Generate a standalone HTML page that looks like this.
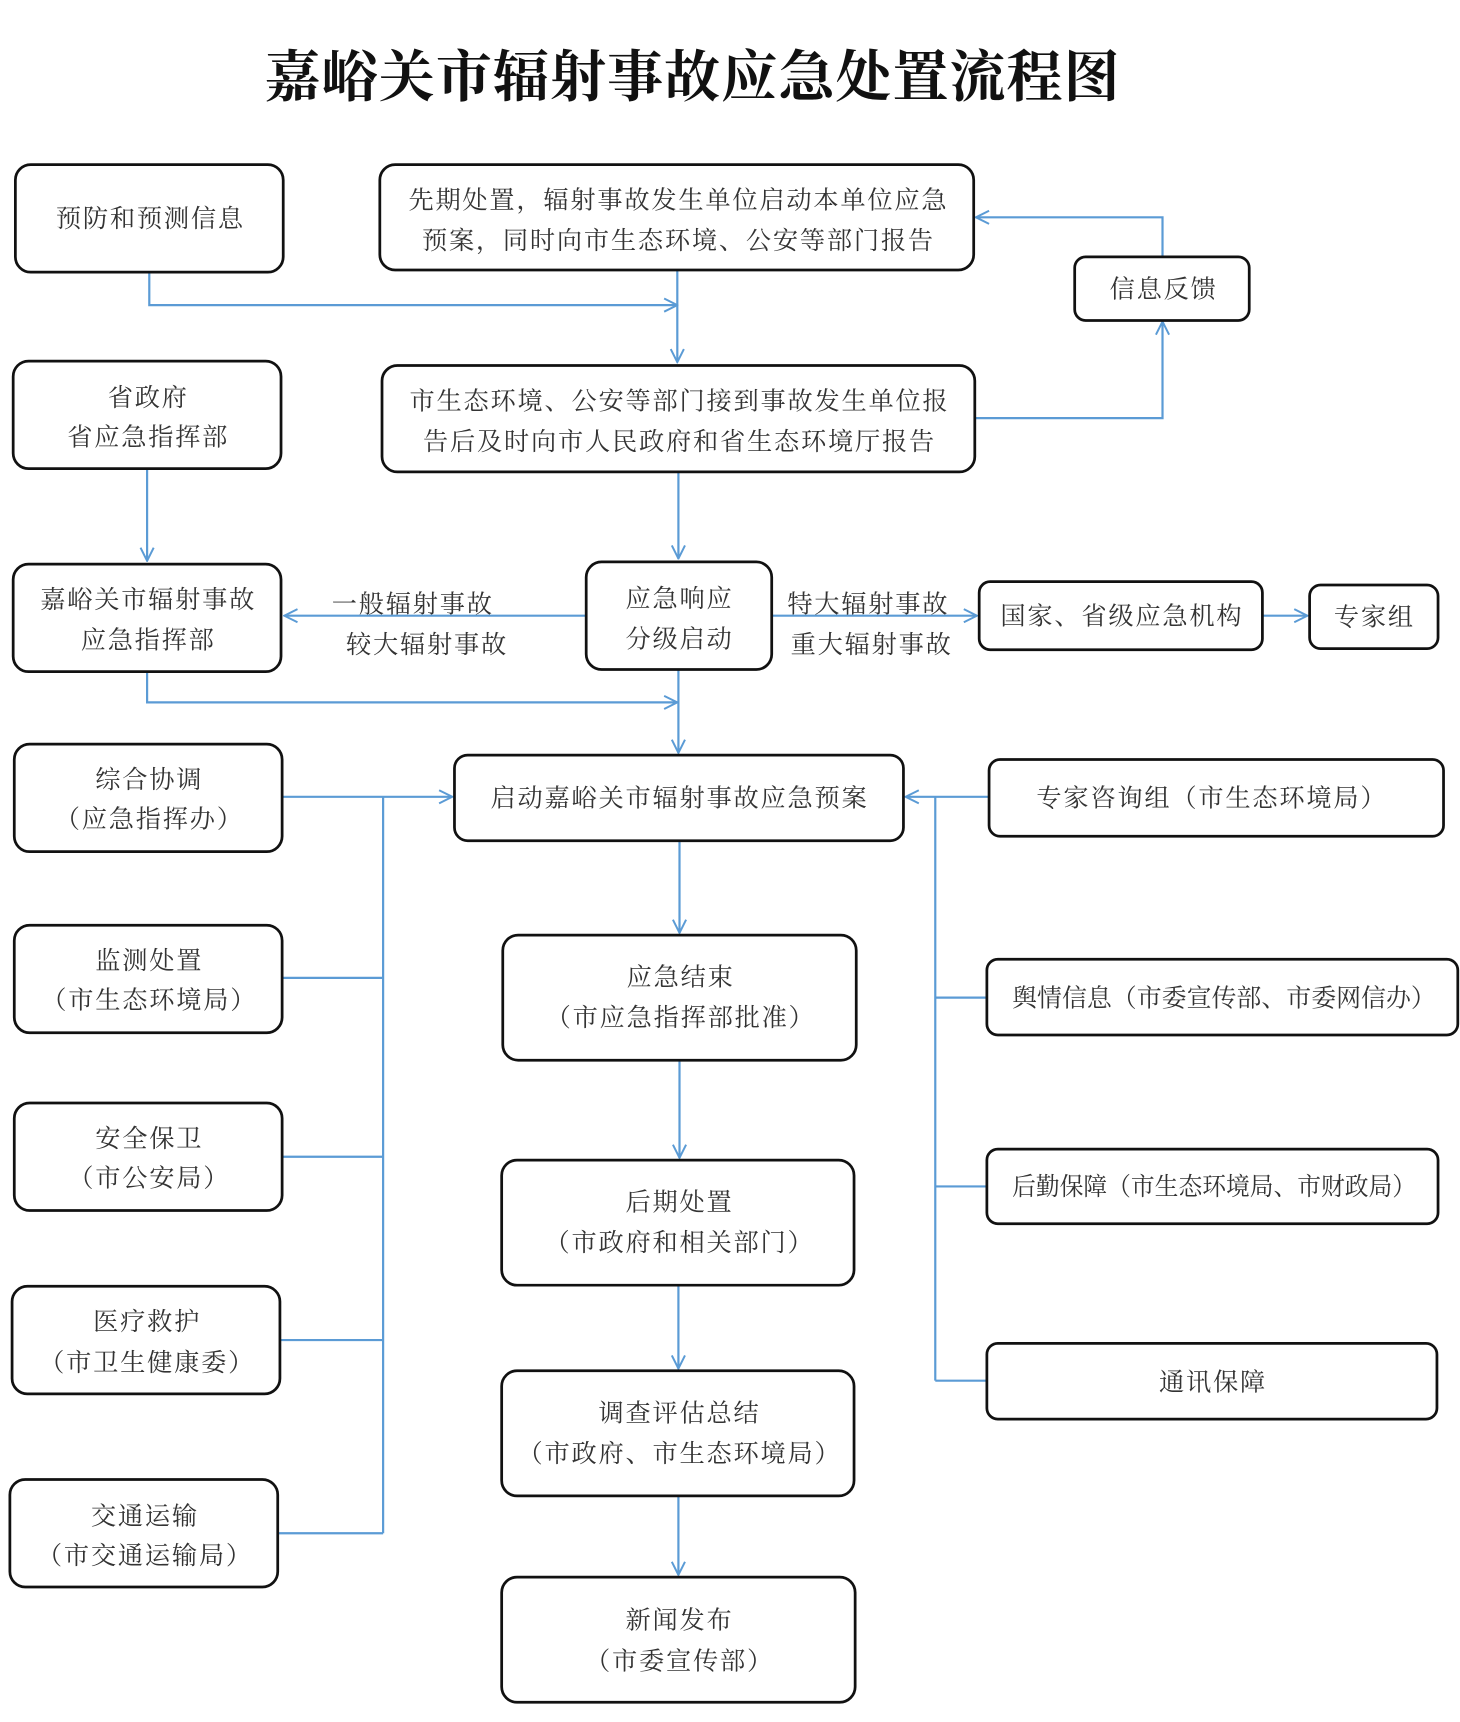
<!DOCTYPE html>
<html><head><meta charset="utf-8"><style>
html,body{margin:0;padding:0;background:#fff;}
svg{display:block;}
text{font-family:"Liberation Serif","Noto Serif CJK SC",serif;fill:#333;font-size:23px;letter-spacing:1.6px;text-anchor:middle;}
.t{font-size:51px;font-weight:bold;fill:#111;letter-spacing:1px;}
.n{letter-spacing:0;}
rect{fill:#fff;stroke:#111;stroke-width:2.5;}
.c{fill:none;stroke:#5b9bd5;stroke-width:2;}
</style></head><body>
<svg width="1460" height="1722" viewBox="0 0 1330 1569" preserveAspectRatio="none" xmlns="http://www.w3.org/2000/svg">
<defs><marker id="a" viewBox="0 0 14 14" refX="13" refY="7" markerWidth="14" markerHeight="14" markerUnits="userSpaceOnUse" orient="auto"><path d="M1,1 L13,7 L1,13" fill="none" stroke="#5b9bd5" stroke-width="1.8"/></marker></defs>
<text class="t" x="631" y="88">嘉峪关市辐射事故应急处置流程图</text>

<path class="c" d="M136,248 V278 H617" marker-end="url(#a)"/>
<path class="c" d="M617,246 V330" marker-end="url(#a)"/>
<path class="c" d="M888,381 H1059 V293" marker-end="url(#a)"/>
<path class="c" d="M1059,234 V198 H889" marker-end="url(#a)"/>
<path class="c" d="M134,427 V511" marker-end="url(#a)"/>
<path class="c" d="M618,430 V509" marker-end="url(#a)"/>
<path class="c" d="M534,561 H259" marker-end="url(#a)"/>
<path class="c" d="M703,561 H890" marker-end="url(#a)"/>
<path class="c" d="M1150,561 H1191" marker-end="url(#a)"/>
<path class="c" d="M134,612 V640 H617" marker-end="url(#a)"/>
<path class="c" d="M618,610 V686" marker-end="url(#a)"/>
<path class="c" d="M349,726 V1397"/>
<path class="c" d="M257,726 H412" marker-end="url(#a)"/>
<path class="c" d="M257,891 H349 M257,1054 H349 M255,1221 H349 M253,1397 H349"/>
<path class="c" d="M852,726 V1258"/>
<path class="c" d="M901,726 H825" marker-end="url(#a)"/>
<path class="c" d="M852,909 H899 M852,1081 H899 M852,1258 H899"/>
<path class="c" d="M619,766 V850" marker-end="url(#a)"/>
<path class="c" d="M619,966 V1055" marker-end="url(#a)"/>
<path class="c" d="M618,1171 V1247" marker-end="url(#a)"/>
<path class="c" d="M618,1363 V1435" marker-end="url(#a)"/>

<text x="376" y="558">一般辐射事故</text>
<text x="389" y="595">较大辐射事故</text>
<text x="791" y="558">特大辐射事故</text>
<text x="794" y="595">重大辐射事故</text>

<rect x="14" y="150" width="244" height="98" rx="14"/><text x="137" y="207">预防和预测信息</text>
<rect x="346" y="150" width="541" height="96" rx="14"/><text x="618" y="190">先期处置，辐射事故发生单位启动本单位应急</text><text x="618" y="227">预案，同时向市生态环境、公安等部门报告</text>
<rect x="979" y="234" width="159" height="58" rx="10"/><text x="1060" y="271">信息反馈</text>
<rect x="12" y="329" width="244" height="98" rx="14"/><text x="135" y="370">省政府</text><text x="135" y="406">省应急指挥部</text>
<rect x="348" y="333" width="540" height="97" rx="14"/><text x="619" y="373">市生态环境、公安等部门接到事故发生单位报</text><text x="619" y="410">告后及时向市人民政府和省生态环境厅报告</text>
<rect x="12" y="514" width="244" height="98" rx="14"/><text x="135" y="554">嘉峪关市辐射事故</text><text x="135" y="591">应急指挥部</text>
<rect x="534" y="512" width="169" height="98" rx="14"/><text x="619" y="553">应急响应</text><text x="619" y="590">分级启动</text>
<rect x="892" y="530" width="258" height="62" rx="10"/><text x="1022" y="569">国家、省级应急机构</text>
<rect x="1193" y="533" width="117" height="58" rx="10"/><text x="1252" y="570">专家组</text>
<rect x="13" y="678" width="244" height="98" rx="14"/><text x="136" y="718">综合协调</text><text x="136" y="754">（应急指挥办）</text>
<rect x="414" y="688" width="409" height="78" rx="12"/><text x="619" y="735">启动嘉峪关市辐射事故应急预案</text>
<rect x="901" y="692" width="414" height="70" rx="10"/><text x="1104" y="735">专家咨询组（市生态环境局）</text>
<rect x="13" y="843" width="244" height="98" rx="14"/><text x="136" y="883">监测处置</text><text x="136" y="919">（市生态环境局）</text>
<rect x="458" y="852" width="322" height="114" rx="14"/><text x="620" y="898">应急结束</text><text x="620" y="935">（市应急指挥部批准）</text>
<rect x="899" y="874" width="429" height="69" rx="10"/><text class="n" x="1115" y="917" textLength="386" lengthAdjust="spacingAndGlyphs">舆情信息（市委宣传部、市委网信办）</text>
<rect x="13" y="1005" width="244" height="98" rx="14"/><text x="136" y="1045">安全保卫</text><text x="136" y="1081">（市公安局）</text>
<rect x="457" y="1057" width="321" height="114" rx="14"/><text x="619" y="1103">后期处置</text><text x="619" y="1140">（市政府和相关部门）</text>
<rect x="899" y="1047" width="411" height="68" rx="10"/><text class="n" x="1106" y="1089" textLength="368" lengthAdjust="spacingAndGlyphs">后勤保障（市生态环境局、市财政局）</text>
<rect x="11" y="1172" width="244" height="98" rx="14"/><text x="134" y="1212">医疗救护</text><text x="134" y="1249">（市卫生健康委）</text>
<rect x="457" y="1249" width="321" height="114" rx="14"/><text x="619" y="1295">调查评估总结</text><text x="619" y="1332">（市政府、市生态环境局）</text>
<rect x="899" y="1224" width="410" height="69" rx="10"/><text x="1105" y="1267">通讯保障</text>
<rect x="9" y="1348" width="244" height="98" rx="14"/><text x="132" y="1389">交通运输</text><text x="132" y="1425">（市交通运输局）</text>
<rect x="457" y="1437" width="322" height="114" rx="14"/><text x="619" y="1484">新闻发布</text><text x="619" y="1521">（市委宣传部）</text>
</svg>
</body></html>
